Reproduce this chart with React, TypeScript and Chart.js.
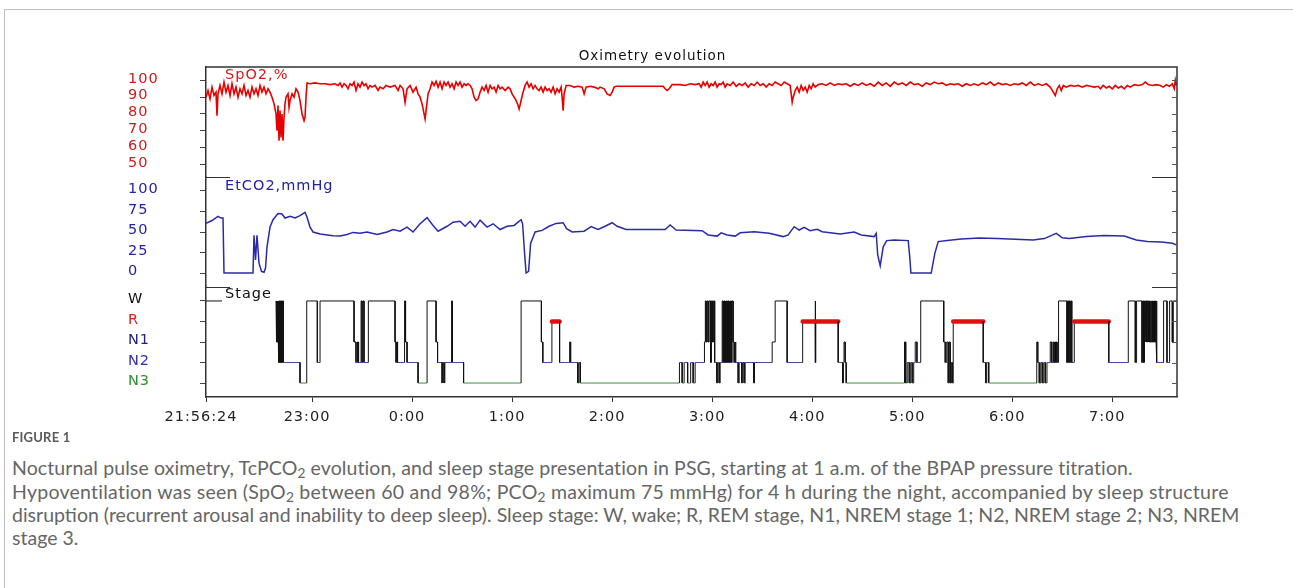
import React, { useEffect, useLayoutEffect, useRef, useState } from 'react';
import { Chart, registerables } from 'chart.js';

Chart.register(...registerables);

// ---- time axis (clock hours; values above 24 are after midnight) ----
const startTime = 21.94; // 21:56:24
const endTime = 31.647;
const xTickValues = [21.94, 23, 24, 25, 26, 27, 28, 29, 30, 31];
const xTickLabels = ['21:56:24', '23:00', '0:00', '1:00', '2:00', '3:00', '4:00', '5:00', '6:00', '7:00'];

// ---- y ticks ----
const spo2TickValues = [50, 60, 70, 80, 90, 100];
const etco2TickValues = [0, 25, 50, 75, 100];
const stageTickValues = [0, 1, 2, 3, 4];
const stageTickLabels = ['N3', 'N2', 'N1', 'R', 'W'];
const stageTickColors = ['#2f8f2f', '#3030b0', '#22228a', '#e01b1b', '#111111'];

// ---- SpO2, % : [clock hour, value] ----
const spo2Points: [number, number][] = [
  [21.94, 90], [21.96, 94], [21.98, 89], [22.0, 96], [22.02, 91], [22.04, 93], [22.05, 79], [22.06, 92],
  [22.08, 97], [22.1, 92], [22.12, 99], [22.14, 93], [22.16, 97], [22.18, 91], [22.2, 98], [22.22, 92],
  [22.24, 96], [22.26, 90], [22.28, 95], [22.3, 92], [22.32, 97], [22.34, 91], [22.36, 94], [22.38, 90],
  [22.4, 96], [22.42, 92], [22.44, 95], [22.46, 91], [22.48, 97], [22.5, 93], [22.52, 96], [22.54, 92],
  [22.56, 95], [22.58, 93], [22.6, 90], [22.62, 86], [22.64, 80], [22.65, 70], [22.66, 85], [22.67, 64],
  [22.68, 82], [22.69, 66], [22.7, 80], [22.71, 64], [22.72, 78], [22.73, 86], [22.74, 90], [22.76, 92],
  [22.77, 84], [22.78, 88], [22.8, 92], [22.82, 90], [22.84, 95], [22.86, 93], [22.88, 88], [22.9, 80],
  [22.92, 76], [22.93, 78], [22.94, 90], [22.95, 98.5], [22.98, 98], [23.03, 98.5], [23.08, 98], [23.13, 98],
  [23.18, 97.5], [23.23, 98], [23.26, 97], [23.28, 98.5], [23.3, 96], [23.32, 98], [23.34, 97], [23.36, 95],
  [23.38, 98], [23.4, 97], [23.42, 99], [23.44, 94], [23.46, 98], [23.48, 96], [23.5, 99], [23.52, 97],
  [23.54, 98], [23.56, 95], [23.58, 97], [23.6, 96], [23.63, 97], [23.66, 94], [23.68, 96], [23.71, 95],
  [23.74, 97], [23.78, 96], [23.83, 97], [23.86, 94], [23.88, 97], [23.91, 95], [23.93, 87], [23.95, 95],
  [23.98, 97], [24.01, 93], [24.04, 96], [24.06, 92], [24.08, 90], [24.1, 86], [24.12, 80], [24.13, 77],
  [24.14, 82], [24.16, 92], [24.18, 95], [24.2, 99], [24.22, 97], [24.24, 99.5], [24.26, 96], [24.28, 99],
  [24.3, 95], [24.32, 99], [24.34, 97], [24.36, 99], [24.38, 96], [24.4, 98], [24.42, 95], [24.44, 99],
  [24.46, 97], [24.48, 99], [24.5, 96], [24.52, 98], [24.54, 97], [24.56, 98], [24.58, 97], [24.6, 95],
  [24.62, 90], [24.64, 88], [24.66, 89], [24.68, 93], [24.7, 96], [24.72, 94], [24.74, 97], [24.76, 93],
  [24.78, 97], [24.8, 95], [24.82, 96], [24.84, 93], [24.86, 97], [24.88, 95], [24.9, 96], [24.93, 94],
  [24.96, 96], [24.98, 95], [25.0, 92], [25.02, 90], [25.04, 88], [25.06, 85], [25.07, 83], [25.09, 88],
  [25.11, 93], [25.13, 97], [25.15, 99], [25.17, 96], [25.19, 98], [25.21, 95], [25.23, 97], [25.25, 95],
  [25.27, 94], [25.29, 96], [25.31, 93], [25.33, 96], [25.35, 94], [25.37, 95], [25.39, 93], [25.41, 96],
  [25.43, 92], [25.45, 95], [25.47, 93], [25.49, 96], [25.5, 90], [25.51, 82], [25.52, 92], [25.54, 97],
  [25.58, 97], [25.62, 96], [25.66, 96.5], [25.7, 96], [25.72, 92], [25.74, 96], [25.78, 96.5], [25.82, 96],
  [25.86, 95], [25.88, 96], [25.92, 95], [25.95, 92], [25.98, 91], [26.0, 93], [26.02, 96], [26.04, 96.5],
  [26.51, 96.5], [26.53, 95], [26.55, 94], [26.57, 95], [26.6, 97.5], [26.68, 97.5], [26.73, 97], [26.78, 98],
  [26.83, 97.5], [26.87, 98], [26.89, 96], [26.91, 99], [26.93, 97], [26.95, 99], [26.97, 96], [26.99, 98],
  [27.01, 97], [27.03, 99], [27.05, 96], [27.07, 98], [27.09, 97.5], [27.11, 99], [27.13, 96], [27.15, 98],
  [27.18, 97], [27.21, 99], [27.24, 96.5], [27.27, 98], [27.3, 97], [27.33, 98.5], [27.36, 96], [27.39, 98],
  [27.42, 97], [27.45, 99], [27.48, 97], [27.51, 98], [27.54, 96], [27.57, 98], [27.6, 97], [27.63, 99],
  [27.66, 98], [27.69, 97], [27.72, 99], [27.75, 98], [27.78, 97], [27.8, 87], [27.81, 90], [27.83, 94],
  [27.85, 96], [27.87, 93], [27.89, 97], [27.91, 94], [27.93, 96], [27.95, 93], [27.97, 97], [27.99, 95],
  [28.01, 98], [28.03, 96], [28.06, 97.5], [28.1, 98], [28.14, 97], [28.18, 98.5], [28.22, 97], [28.26, 98],
  [28.3, 97.5], [28.34, 98], [28.38, 96.5], [28.42, 98], [28.46, 97], [28.5, 98.5], [28.54, 97], [28.58, 98],
  [28.62, 96.5], [28.66, 99], [28.7, 97], [28.74, 98.5], [28.78, 96.5], [28.82, 99], [28.86, 97.5], [28.9, 98.5],
  [28.94, 97], [28.98, 99], [29.02, 97.5], [29.06, 98], [29.1, 96.5], [29.14, 98.5], [29.18, 97.5], [29.22, 99],
  [29.26, 98], [29.3, 98.5], [29.34, 97], [29.38, 98], [29.42, 97.5], [29.46, 98], [29.5, 96.5], [29.54, 98],
  [29.58, 97], [29.62, 98], [29.66, 97], [29.7, 98.5], [29.74, 97.5], [29.78, 99], [29.82, 97], [29.86, 98.5],
  [29.9, 97.5], [29.94, 98], [29.98, 97], [30.02, 98], [30.06, 97.5], [30.1, 98.5], [30.14, 97], [30.18, 99],
  [30.22, 97], [30.26, 98], [30.3, 97], [30.34, 98], [30.38, 96], [30.41, 93], [30.43, 91], [30.45, 95],
  [30.47, 97], [30.49, 94], [30.51, 97], [30.54, 96], [30.58, 97], [30.62, 96.5], [30.66, 97], [30.7, 96],
  [30.74, 97], [30.78, 96.5], [30.82, 96], [30.86, 96.5], [30.88, 95], [30.91, 97], [30.94, 95.5], [30.97, 96.5],
  [31.0, 95], [31.03, 97], [31.06, 95.5], [31.09, 96.5], [31.12, 95], [31.15, 97], [31.18, 96], [31.22, 97.5],
  [31.26, 97], [31.3, 97.5], [31.33, 99], [31.36, 97.5], [31.4, 97], [31.44, 97.5], [31.48, 97], [31.51, 96],
  [31.54, 97.5], [31.57, 96.5], [31.6, 98], [31.62, 95], [31.63, 100], [31.64, 97],
];

// ---- EtCO2, mmHg : [clock hour, value] ----
const etco2Points: [number, number][] = [
  [21.94, 60.5], [22.0, 64], [22.06, 69], [22.09, 67], [22.11, 67], [22.12, 0], [22.41, 0], [22.42, 46],
  [22.435, 16], [22.45, 46], [22.47, 12], [22.495, 2], [22.52, 1], [22.535, 6], [22.55, 32], [22.58, 56],
  [22.61, 65], [22.66, 72.5], [22.7, 72], [22.73, 67], [22.78, 69], [22.83, 67], [22.88, 70], [22.93, 74],
  [22.95, 68], [22.98, 56], [23.01, 50], [23.08, 47.5], [23.21, 45.5], [23.28, 45], [23.35, 47], [23.41, 49.5],
  [23.48, 48.5], [23.55, 50], [23.65, 47], [23.75, 50], [23.81, 53], [23.88, 51], [23.95, 56], [24.01, 50],
  [24.08, 60], [24.15, 67.5], [24.21, 58], [24.26, 51], [24.35, 57], [24.41, 62], [24.48, 63], [24.53, 57],
  [24.58, 63], [24.63, 56], [24.68, 64.5], [24.75, 56], [24.81, 60], [24.88, 53], [24.95, 57], [25.02, 58],
  [25.09, 65], [25.105, 60], [25.125, 24], [25.14, 0], [25.165, 2], [25.185, 36], [25.23, 50], [25.3, 52],
  [25.37, 57], [25.44, 60.5], [25.51, 61.3], [25.545, 54], [25.6, 50], [25.72, 51], [25.79, 56.5], [25.86, 53],
  [25.93, 57], [26.0, 61.3], [26.05, 57], [26.14, 53], [26.28, 53], [26.53, 53], [26.58, 58.5], [26.64, 52.4],
  [26.9, 51.6], [26.96, 46.4], [27.05, 45], [27.09, 49], [27.15, 46.4], [27.23, 45], [27.28, 49], [27.42, 50.4],
  [27.57, 48.4], [27.71, 44.4], [27.76, 46.4], [27.82, 56.5], [27.87, 52.4], [27.92, 55.6], [27.98, 51.6], [28.05, 53.2],
  [28.1, 50.4], [28.28, 47.6], [28.42, 50], [28.49, 46.4], [28.62, 44.4], [28.64, 48.4], [28.655, 22], [28.68, 8.9],
  [28.71, 32], [28.745, 39.5], [28.82, 40.3], [28.96, 39.5], [28.975, 20], [28.987, 0], [29.19, 0], [29.226, 24],
  [29.26, 38.3], [29.35, 39.5], [29.49, 41.5], [29.67, 42.7], [29.85, 42], [30.03, 41.1], [30.21, 40.3], [30.32, 42],
  [30.44, 48.4], [30.5, 43], [30.57, 42], [30.74, 44.4], [30.92, 45.6], [31.12, 45.2], [31.24, 40.3], [31.35, 38.3],
  [31.49, 37.9], [31.6, 36.3], [31.64, 34.3],
];

// ---- Sleep stage changes : [clock hour, stage level from then on] (4=W, 3=R, 2=N1, 1=N2, 0=N3, null=no record) ----
const stageChanges: [number, number | null][] = [
  [21.94, 4], [22.1, null], [22.64, 4], [22.645, 2], [22.652, 4], [22.658, 2], [22.663, 4], [22.668, 1],
  [22.674, 4], [22.68, 1], [22.685, 4], [22.69, 1], [22.695, 4], [22.7, 1], [22.705, 4], [22.713, 1],
  [22.88, 0], [22.947, 4], [23.053, 1], [23.08, 4], [23.42, 2], [23.44, 1], [23.455, 2], [23.465, 1],
  [23.49, 4], [23.5, 1], [23.51, 4], [23.52, 1], [23.563, 4], [23.83, 2], [23.84, 1], [23.848, 2],
  [23.855, 1], [23.925, 4], [23.935, 2], [23.95, 1], [24.06, 0], [24.15, 4], [24.24, 2], [24.255, 1],
  [24.3, 0], [24.308, 1], [24.32, 0], [24.328, 1], [24.395, 4], [24.403, 1], [24.515, 0], [25.09, 4],
  [25.293, 2], [25.307, 1], [25.398, 3], [25.475, 1], [25.575, 2], [25.585, 1], [25.657, 0], [25.668, 1],
  [25.682, 0], [26.673, 1], [26.7, 0], [26.72, 1], [26.755, 0], [26.785, 1], [26.81, 0], [26.83, 1],
  [26.923, 2], [26.932, 4], [26.94, 2], [26.95, 4], [26.96, 2], [26.97, 4], [26.985, 1], [26.993, 4],
  [27.003, 2], [27.013, 4], [27.025, 1], [27.045, 0], [27.055, 1], [27.07, 0], [27.08, 1], [27.1, 4],
  [27.11, 1], [27.117, 4], [27.124, 1], [27.13, 4], [27.137, 1], [27.143, 4], [27.15, 1], [27.157, 4],
  [27.164, 1], [27.17, 4], [27.177, 1], [27.184, 4], [27.192, 1], [27.2, 4], [27.21, 2], [27.22, 1],
  [27.23, 2], [27.238, 1], [27.26, 0], [27.27, 1], [27.295, 0], [27.305, 1], [27.32, 0], [27.33, 1],
  [27.415, 0], [27.423, 1], [27.6, 2], [27.63, 4], [27.75, 1], [27.905, 3], [28.03, 4], [28.033, 1],
  [28.036, 3], [28.26, 1], [28.305, 0], [28.312, 1], [28.318, 2], [28.33, 1], [28.34, 0], [28.923, 2],
  [28.935, 0], [28.95, 1], [28.97, 0], [28.985, 1], [29.0, 0], [29.015, 1], [29.03, 2], [29.047, 1],
  [29.085, 4], [29.315, 2], [29.33, 1], [29.345, 2], [29.36, 0], [29.37, 2], [29.38, 0], [29.39, 1],
  [29.4, 0], [29.41, 3], [29.71, 1], [29.735, 0], [29.745, 1], [29.765, 0], [30.245, 2], [30.255, 1],
  [30.27, 0], [30.285, 1], [30.3, 0], [30.315, 1], [30.33, 0], [30.347, 1], [30.38, 2], [30.395, 1],
  [30.41, 2], [30.418, 1], [30.425, 2], [30.433, 1], [30.44, 2], [30.448, 1], [30.463, 4], [30.547, 1],
  [30.554, 4], [30.562, 1], [30.57, 4], [30.578, 1], [30.586, 4], [30.595, 1], [30.62, 3], [30.965, 1],
  [31.16, 4], [31.23, 1], [31.243, 4], [31.297, 1], [31.305, 4], [31.313, 1], [31.322, 4], [31.33, 2],
  [31.337, 4], [31.344, 2], [31.351, 4], [31.358, 2], [31.365, 4], [31.372, 2], [31.38, 4], [31.387, 2],
  [31.394, 4], [31.401, 2], [31.408, 4], [31.415, 2], [31.422, 4], [31.43, 2], [31.438, 4], [31.447, 1],
  [31.513, 4], [31.547, 1], [31.573, 4], [31.6, 2], [31.61, 4],
];

const stageLevelColors = ['#3d8f3d', '#4646b0', '#111111', '#e01010', '#111111'];

const captionLine3 =
  'disruption (recurrent arousal and inability to deep sleep). Sleep stage: W, wake; R, REM stage, N1, NREM stage 1; N2, NREM stage 2; N3, NREM';

// right ends of the three long caption lines in the reference
const captionLineEnds = [1135, 1230, 1240];

const CAP_LEFT = 12;
const CAP_SIZE = 16.5;
const TICK_FONT = { family: 'DejaVu Sans', size: 14.5 };

function buildStagePoints() {
  const pts: { x: number; y: number | null }[] = [];
  for (let i = 0; i < stageChanges.length; i++) {
    const [t, lvl] = stageChanges[i];
    const tNext = i + 1 < stageChanges.length ? stageChanges[i + 1][0] : endTime;
    if (lvl === null) {
      pts.push({ x: t, y: null });
      continue;
    }
    pts.push({ x: t, y: lvl });
    pts.push({ x: tNext, y: lvl });
  }
  return pts;
}

const decorPlugin = {
  id: 'decor',
  beforeUpdate(chart: any) {
    chart.ctx.letterSpacing = '1px';
  },
  beforeDraw(chart: any) {
    chart.ctx.letterSpacing = '1px';
  },
  afterDraw(chart: any) {
    const ctx = chart.ctx as CanvasRenderingContext2D;
    const { left, right, top, bottom } = chart.chartArea;
    ctx.save();
    // frame top and right
    ctx.strokeStyle = '#333';
    ctx.lineWidth = 1.5;
    ctx.beginPath();
    ctx.moveTo(left, top);
    ctx.lineTo(right, top);
    ctx.lineTo(right, bottom);
    ctx.stroke();
    // inner tick marks on the right side
    ctx.strokeStyle = '#555';
    ctx.lineWidth = 1;
    for (const id of ['spo2', 'etco2', 'stage']) {
      const s = chart.scales[id];
      for (const t of s.ticks) {
        const y = Math.round(s.getPixelForValue(t.value)) + 0.5;
        ctx.beginPath();
        ctx.moveTo(right - 5, y);
        ctx.lineTo(right, y);
        ctx.stroke();
      }
    }
    // panel dividers
    ctx.strokeStyle = '#333';
    ctx.lineWidth = 1.2;
    for (const id of ['etco2', 'stage']) {
      const y = Math.round(chart.scales[id].top) + 0.5;
      ctx.beginPath();
      ctx.moveTo(left, y);
      ctx.lineTo(left + 24, y);
      ctx.moveTo(right - 25, y);
      ctx.lineTo(right, y);
      ctx.stroke();
    }
    // panel labels
    ctx.letterSpacing = '1px';
    ctx.font = '14.5px "DejaVu Sans"';
    ctx.textBaseline = 'middle';
    ctx.textAlign = 'left';
    ctx.fillStyle = '#d21a1a';
    ctx.fillText('SpO2,%', left + 19, chart.scales.spo2.top + 8);
    ctx.fillStyle = '#2323a0';
    ctx.fillText('EtCO2,mmHg', left + 19, chart.scales.etco2.top + 9);
    ctx.fillStyle = '#111';
    ctx.fillText('Stage', left + 19, chart.scales.stage.top + 7.5);
    ctx.restore();
  },
};

function yScale(weight: number, min: number, max: number, values: number[], labels: (v: number, i: number) => string, color: any) {
  return {
    type: 'linear',
    position: 'left',
    stack: 'panels',
    stackWeight: 1,
    weight,
    min,
    max,
    afterBuildTicks: (s: any) => {
      s.ticks = values.map((v) => ({ value: v }));
    },
    afterFit: (s: any) => {
      s.width = 78;
    },
    ticks: {
      crossAlign: 'far',
      autoSkip: false,
      font: TICK_FONT,
      color,
      labelOffset: -1.5,
      callback: (v: number, i: number) => labels(v, i),
    },
    grid: { drawOnChartArea: false, drawTicks: true, tickLength: 6, color: '#444', lineWidth: 1 },
    border: { display: true, color: '#333', width: 1.5 },
  };
}

const subStyle: React.CSSProperties = { fontSize: '0.7em', verticalAlign: '-0.25em', lineHeight: 0 };

export default function App() {
  const canvasRef = useRef<HTMLCanvasElement | null>(null);
  const lineRefs = useRef<(HTMLSpanElement | null)[]>([]);
  const [fit, setFit] = useState<{ size: number; spacing: number[] }>({ size: CAP_SIZE, spacing: [0, 0, 0] });

  useLayoutEffect(() => {
    const widths = lineRefs.current.map((el) => (el ? el.getBoundingClientRect().width : 0));
    if (!widths[2]) return;
    const size = (CAP_SIZE * (captionLineEnds[2] - CAP_LEFT)) / widths[2];
    const k = size / CAP_SIZE;
    const spacing = captionLineEnds.map((end, i) => {
      const el = lineRefs.current[i];
      const chars = el ? (el.textContent || '').length : 0;
      if (i === 2 || chars < 2) return 0;
      return Math.max(-0.5, Math.min(1.5, (end - CAP_LEFT - widths[i] * k) / chars));
    });
    setFit({ size, spacing });
  }, []);

  useEffect(() => {
    if (!canvasRef.current) return;
    const chart = new Chart(canvasRef.current, {
      type: 'line',
      data: {
        datasets: [
          {
            label: 'SpO2',
            data: spo2Points.map(([x, y]) => ({ x, y })),
            yAxisID: 'spo2',
            borderColor: '#e60000',
            borderWidth: 1.6,
            pointRadius: 0,
            tension: 0,
          },
          {
            label: 'EtCO2',
            data: etco2Points.map(([x, y]) => ({ x, y })),
            yAxisID: 'etco2',
            borderColor: '#2a2aa8',
            borderWidth: 1.5,
            pointRadius: 0,
            tension: 0,
          },
          {
            label: 'Stage',
            data: buildStagePoints() as any,
            yAxisID: 'stage',
            borderColor: '#111',
            borderWidth: 1,
            pointRadius: 0,
            tension: 0,
            spanGaps: false,
            segment: {
              borderColor: (c: any) =>
                c.p0.parsed.y === c.p1.parsed.y ? stageLevelColors[c.p0.parsed.y] : '#111111',
              borderWidth: (c: any) => (c.p0.parsed.y === c.p1.parsed.y && c.p0.parsed.y === 3 ? 4.5 : 1),
              borderCapStyle: (c: any) => (c.p0.parsed.y === c.p1.parsed.y && c.p0.parsed.y === 3 ? 'round' : 'butt'),
            },
          },
        ],
      },
      options: {
        animation: false,
        responsive: false,
        maintainAspectRatio: false,
        events: [],
        layout: { padding: { left: 128, right: 127, top: 0, bottom: 10 } },
        plugins: {
          legend: { display: false },
          tooltip: { enabled: false },
          title: {
            display: true,
            text: 'Oximetry evolution',
            color: '#111',
            font: { family: 'DejaVu Sans', size: 13.5, weight: 'normal' },
            padding: { top: 47.9, bottom: 2.9 },
          },
        },
        scales: {
          x: {
            type: 'linear',
            position: 'bottom',
            min: startTime,
            max: endTime,
            afterBuildTicks: (s: any) => {
              s.ticks = xTickValues.map((v) => ({ value: v }));
            },
            afterFit: (s: any) => {
              s.height = 33;
            },
            ticks: {
              autoSkip: false,
              maxRotation: 0,
              font: { family: 'DejaVu Sans', size: 14.5 },
              color: '#222',
              padding: 7,
              labelOffset: -5,
              callback: (v: number) => {
                const i = xTickValues.findIndex((t) => Math.abs(t - v) < 1e-6);
                return i >= 0 ? xTickLabels[i] : '';
              },
            },
            grid: { drawOnChartArea: false, drawTicks: true, tickLength: 5, color: '#333' },
            border: { display: true, color: '#333', width: 1.5 },
          },
          spo2: yScale(3, 42.4, 108, spo2TickValues, (v) => String(v), '#c81e1e'),
          etco2: yScale(2, -17, 117, etco2TickValues, (v) => String(v), '#2323a0'),
          stage: yScale(
            1,
            -0.68,
            4.68,
            stageTickValues,
            (v) => stageTickLabels[Math.round(v)] ?? '',
            (c: any) => stageTickColors[c.index] ?? '#111'
          ),
        } as any,
      },
      plugins: [decorPlugin],
    } as any);
    return () => chart.destroy();
  }, []);

  const capStyle: React.CSSProperties = {
    whiteSpace: 'nowrap',
    height: 23.33,
    lineHeight: '23.33px',
  };

  return (
    <div
      style={{
        position: 'absolute',
        left: 0,
        top: 0,
        width: 1293,
        height: 588,
        overflow: 'hidden',
        background: '#fff',
      }}
    >
      <div
        style={{
          position: 'absolute',
          left: 4,
          top: 9,
          width: 1400,
          height: 700,
          borderLeft: '1px solid #bdbdbd',
          borderTop: '1px solid #bdbdbd',
        }}
      />
      <canvas
        ref={canvasRef}
        width={1304}
        height={440}
        style={{ position: 'absolute', left: 0, top: 0, width: 1304, height: 440 }}
      />
      <div
        style={{
          position: 'absolute',
          left: CAP_LEFT,
          top: 429,
          fontFamily: 'Lato, "Open Sans", sans-serif',
          fontWeight: 700,
          fontSize: 13,
          color: '#5a5a5a',
          letterSpacing: '0.2px',
          lineHeight: '16px',
        }}
      >
        FIGURE 1
      </div>
      <div
        style={{
          position: 'absolute',
          left: CAP_LEFT,
          top: 456.3,
          fontFamily: 'Lato, "Open Sans", sans-serif',
          fontSize: fit.size,
          color: '#666',
        }}
      >
        <div style={capStyle}>
          <span ref={(el) => (lineRefs.current[0] = el)} style={{ letterSpacing: fit.spacing[0] }}>
            Nocturnal pulse oximetry, TcPCO<sub style={subStyle}>2</sub> evolution, and sleep stage presentation in PSG,
            starting at 1 a.m. of the BPAP pressure titration.
          </span>
        </div>
        <div style={capStyle}>
          <span ref={(el) => (lineRefs.current[1] = el)} style={{ letterSpacing: fit.spacing[1] }}>
            Hypoventilation was seen (SpO<sub style={subStyle}>2</sub> between 60 and 98%; PCO<sub style={subStyle}>2</sub>{' '}
            maximum 75 mmHg) for 4 h during the night, accompanied by sleep structure
          </span>
        </div>
        <div style={capStyle}>
          <span ref={(el) => (lineRefs.current[2] = el)} style={{ letterSpacing: fit.spacing[2] }}>
            {captionLine3}
          </span>
        </div>
        <div style={capStyle}>stage 3.</div>
      </div>
    </div>
  );
}
